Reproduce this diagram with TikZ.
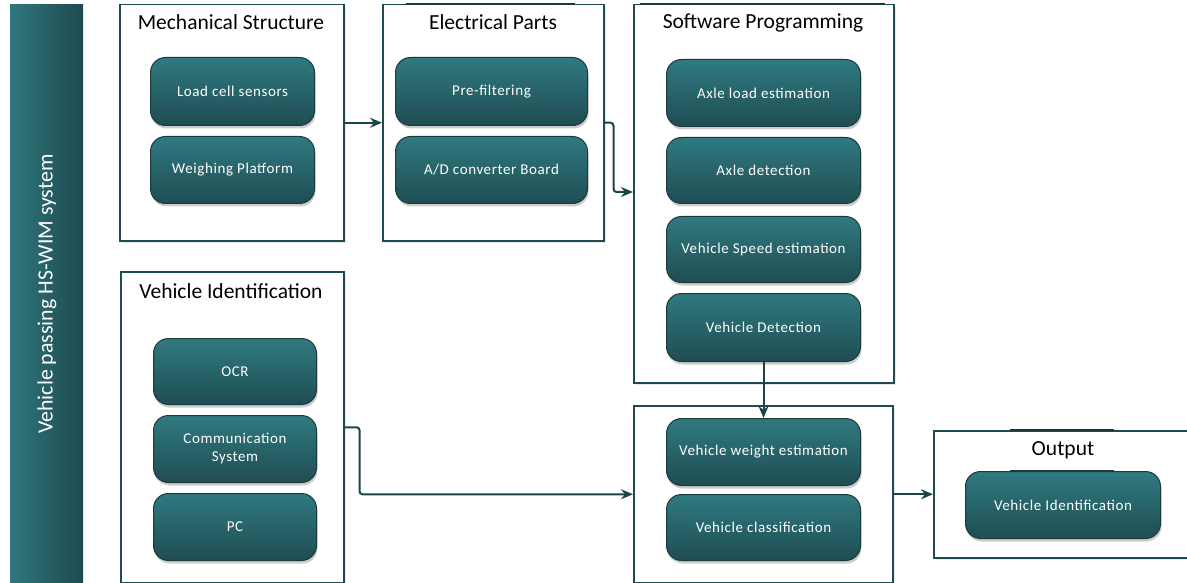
\documentclass[tikz,border=0pt]{standalone}
\usepackage{fontspec}
\setmainfont{Carlito}
\newfontfamily\nodefont[LetterSpace=4]{Carlito}
\usetikzlibrary{shadows,arrows.meta}
\definecolor{tealtop}{HTML}{2F7A80}
\definecolor{tealbot}{HTML}{1F4D53}
\definecolor{nodeedge}{HTML}{1A3A3E}
\definecolor{grpedge}{HTML}{1F4A4F}
\definecolor{conncol}{HTML}{1C4549}
\definecolor{barleft}{HTML}{2E777C}
\definecolor{barright}{HTML}{1E4A4F}
\tikzset{
  grp/.style={draw=grpedge, line width=1.5pt, fill=white, anchor=north west, inner sep=0pt,
    drop shadow={opacity=0.18, shadow xshift=2pt, shadow yshift=-2pt}},
  stepbox/.style={rounded corners=15pt, draw=nodeedge, line width=1pt, top color=tealtop,
    bottom color=tealbot, text=white, font=\nodefont\fontsize{15}{18}\selectfont, anchor=north west,
    align=center, inner sep=2pt,
    drop shadow={opacity=0.4, shadow xshift=1pt, shadow yshift=-3pt}},
  grptitle/.style={font=\fontsize{21.5}{24}\selectfont, text=black},
  conn/.style={draw=conncol, line width=2pt, rounded corners=3pt, -{Stealth[length=12pt,width=10pt]}},
  topmark/.style={draw=nodeedge, line width=2.5pt}
}
\begin{document}
\begin{tikzpicture}[x=1pt,y=-1pt]
\useasboundingbox (0,0) rectangle (1187,583);
% left bar
\node[anchor=north west, minimum width=73pt, minimum height=590pt, inner sep=0pt,
  left color=barleft, right color=barright, draw=none] (bar) at (10,4) {};
\node[rotate=90, text=white, font=\fontsize{21.8}{24}\selectfont] (bartxt) at (47,294) {Vehicle passing HS-WIM system};

% group boxes
\node[grp, minimum width=224pt, minimum height=236pt] (mech) at (119,4) {};
\node[grp, minimum width=221pt, minimum height=236pt] (elec) at (382,4) {};
\node[grp, minimum width=260pt, minimum height=378pt] (sw) at (633,4) {};
\node[grp, minimum width=223pt, minimum height=311pt] (vi) at (120,271) {};
\node[grp, minimum width=259pt, minimum height=177pt] (low) at (633,405) {};
\node[grp, minimum width=262pt, minimum height=127pt] (out) at (933,430) {};

\draw[topmark] (406,4) -- (575,4);
\draw[topmark] (640,4) -- (885,4);
\draw[topmark] (1010,430) -- (1114,430);

% titles
\node[grptitle] (tmech) at (231,22) {Mechanical Structure};
\node[grptitle] (telec) at (493,22) {Electrical Parts};
\node[grptitle] (tsw) at (763,23) {Software Programming};
\node[grptitle] (tvi) at (231,291) {Vehicle Identification};
\node[grptitle] (tout) at (1063,450) {Output};

% inner nodes
\node[stepbox, minimum width=164pt, minimum height=68pt] (lcs) at (150,57) {Load cell sensors};
\node[stepbox, minimum width=164pt, minimum height=67pt] (wp) at (150,136) {Weighing Platform};
\node[stepbox, minimum width=192pt, minimum height=68pt] (pf) at (395,57) {Pre-filtering};
\node[stepbox, minimum width=192pt, minimum height=67pt] (ad) at (395,136) {A/D converter Board};
\node[stepbox, minimum width=194pt, minimum height=67pt] (ale) at (666,59) {Axle load estimation};
\node[stepbox, minimum width=194pt, minimum height=66pt] (axd) at (666,137) {Axle detection};
\node[stepbox, minimum width=194pt, minimum height=66pt] (vse) at (666,216) {Vehicle Speed estimation};
\node[stepbox, minimum width=194pt, minimum height=68pt] (vd) at (666,293) {Vehicle Detection};
\node[stepbox, minimum width=163pt, minimum height=66pt] (ocr) at (153,338) {OCR};
\node[stepbox, minimum width=163pt, minimum height=67pt] (cs) at (153,415) {Communication\\System};
\node[stepbox, minimum width=163pt, minimum height=67pt] (pc) at (153,493) {PC};
\node[stepbox, minimum width=194pt, minimum height=67pt] (vwe) at (666,418) {Vehicle weight estimation};
\node[stepbox, minimum width=194pt, minimum height=66pt] (vc) at (666,494) {Vehicle classification};
\node[stepbox, minimum width=195pt, minimum height=67pt] (vid) at (965,471) {Vehicle Identification};
\draw[topmark] (1010,471) -- (1114,471);

% connectors
\coordinate (swin) at (633,192);
\draw[conn] (mech.east) -- (elec.west);
\draw[conn] (elec.east) -- ++(9,0) |- (swin);
\draw[conn] (vd.south) -- (vwe.north);
\draw[conn] (vi.east) -- ++(15,0) |- (low.west);
\draw[conn] (low.east) -- (out.west);
\end{tikzpicture}
\end{document}
